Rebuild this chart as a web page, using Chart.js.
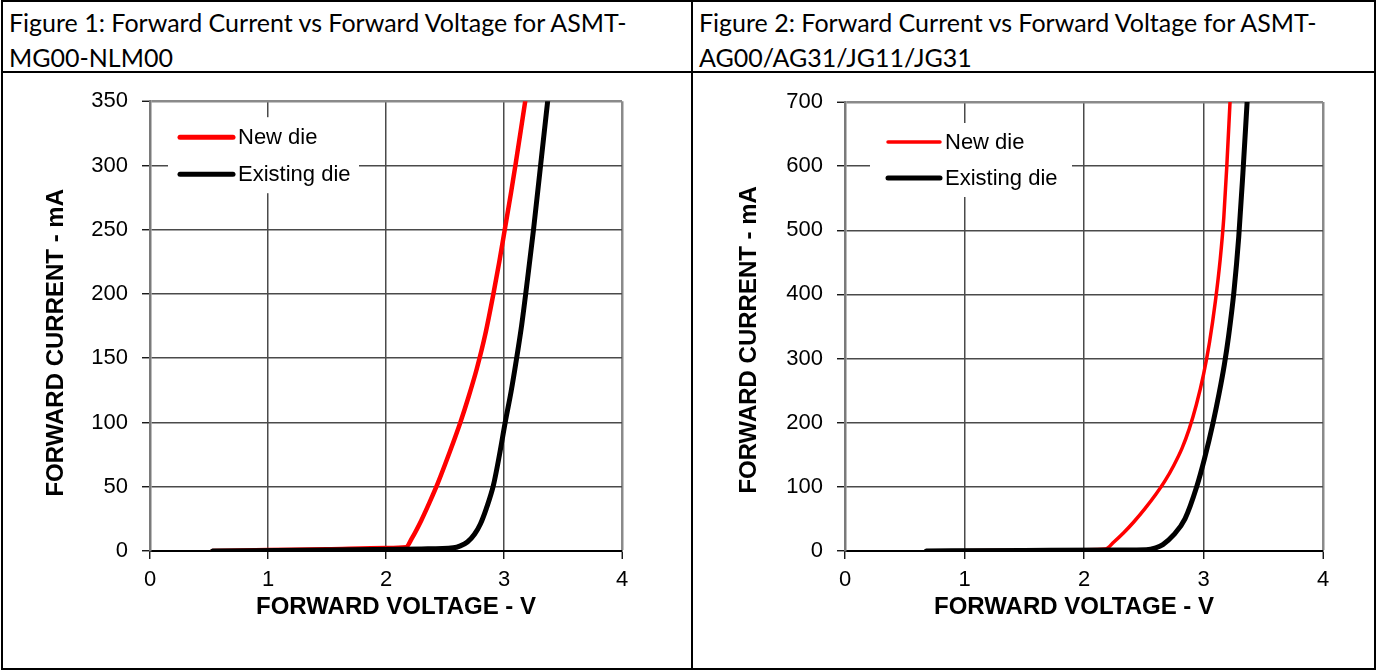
<!DOCTYPE html>
<html>
<head>
<meta charset="utf-8">
<script src="https://cdn.jsdelivr.net/npm/chart.js@4.4.1/dist/chart.umd.min.js"></script>
<style>
  html, body { margin: 0; padding: 0; background: #fff; }
  body { width: 1377px; height: 671px; position: relative; overflow: hidden; font-family: "Liberation Sans", Arial, sans-serif; }
  #frame { position: absolute; left: 1px; top: 0; width: 1371px; height: 666px; border: 2px solid #000; }
  .hline { position: absolute; left: 1px; top: 71px; width: 1375px; height: 2px; background: #000; }
  .vline { position: absolute; left: 691px; top: 0; width: 2px; height: 670px; background: #000; }
  .cap { position: absolute; top: 5px; font-family: Lato, "Open Sans", sans-serif; font-size: 25px; line-height: 35px; color: #000; white-space: nowrap; }
  .box { position: absolute; top: 74px; height: 594px; }
</style>
</head>
<body>
<div id="frame"></div>
<div class="hline"></div>
<div class="vline"></div>
<div class="cap" style="left:9px">Figure 1: Forward Current vs Forward Voltage for ASMT-<br>MG00-NLM00</div>
<div class="cap" style="left:699px">Figure 2: Forward Current vs Forward Voltage for ASMT-<br>AG00/AG31/JG11/JG31</div>
<div class="box" style="left:0; width:692px"><canvas id="fig1"></canvas></div>
<div class="box" style="left:692px; width:682px"><canvas id="fig2"></canvas></div>

<script>
// tick labels
const voltTicks = [0, 1, 2, 3, 4];
const fig1CurrentTicks = [0, 50, 100, 150, 200, 250, 300, 350];
const fig2CurrentTicks = [0, 100, 200, 300, 400, 500, 600, 700];
const seriesNames = ['New die', 'Existing die'];

// Figure 1 (ASMT-MG00-NLM00), volts / mA
const fig1NewV = [0.53, 1.0, 1.5, 2.0, 2.17, 2.22, 2.30, 2.37, 2.44, 2.54, 2.63, 2.70, 2.77, 2.84, 2.91, 2.96, 3.01, 3.06, 3.10, 3.14, 3.18];
const fig1NewI = [0, 0.7, 1.4, 2.3, 3, 10, 24, 38, 53, 77, 100, 120, 142, 168, 200, 225, 252, 279, 302, 326, 350];
const fig1OldV = [0.53, 1.5, 2.3, 2.57, 2.63, 2.69, 2.75, 2.80, 2.85, 2.91, 2.96, 3.01, 3.06, 3.10, 3.15, 3.20, 3.25, 3.31, 3.37];
const fig1OldI = [0, 0.8, 1.6, 2.5, 4, 7, 13, 21, 33, 51, 74, 100, 124, 146, 176, 212, 250, 300, 350];

// Figure 2 (ASMT-AG00/AG31/JG11/JG31)
const fig2NewV = [0.68, 1.5, 2.0, 2.18, 2.25, 2.33, 2.42, 2.51, 2.60, 2.68, 2.75, 2.82, 2.88, 2.94, 3.00, 3.05, 3.10, 3.14, 3.17, 3.195, 3.222];
const fig2NewI = [0, 1, 2, 3, 14, 28, 46, 66, 88, 110, 133, 160, 190, 228, 275, 325, 390, 455, 520, 600, 700];
const fig2OldV = [0.68, 1.5, 2.3, 2.52, 2.60, 2.66, 2.75, 2.845, 2.943, 3.01, 3.08, 3.13, 3.174, 3.21, 3.255, 3.295, 3.33, 3.365];
const fig2OldI = [0, 0.8, 1.5, 2, 5, 10, 25, 50, 100, 145, 200, 245, 290, 335, 405, 490, 590, 700];

Chart.defaults.font.family = '"Liberation Sans", Arial, sans-serif';
Chart.defaults.color = '#000';

const toPoints = (xs, ys) => xs.map((x, i) => ({ x: x, y: ys[i] }));

// legend drawn inside the plot, on a white box over the grid
const insideLegend = {
  id: 'insideLegend',
  beforeDatasetsDraw(chart, args, o) {
    const { ctx, chartArea: a } = chart;
    ctx.save();
    ctx.fillStyle = '#fff';
    ctx.fillRect(a.left + o.x, a.top + o.y, o.w, o.h);
    ctx.font = '22px "Liberation Sans", Arial, sans-serif';
    ctx.textBaseline = 'middle';
    ctx.lineCap = 'round';
    chart.data.datasets.forEach((ds, i) => {
      const y = a.top + o.rows[i];
      ctx.strokeStyle = ds.borderColor;
      ctx.lineWidth = o.widths[i];
      ctx.beginPath();
      ctx.moveTo(a.left + o.lineX, y);
      ctx.lineTo(a.left + o.lineX + o.lineLen, y);
      ctx.stroke();
      ctx.fillStyle = '#000';
      ctx.fillText(ds.label, a.left + o.lineX + o.lineLen + 5, y + 1);
    });
    ctx.restore();
  }
};

function makeChart(id, newV, newI, oldV, oldI, yTicks, s) {
  const yMax = yTicks[yTicks.length - 1];
  const xMax = voltTicks[voltTicks.length - 1];
  const edge = (max) => (c) => (c.tick && c.tick.value === max) ? '#8a8a8a' : '#4a4a4a';
  const edgeW = (max) => (c) => (c.tick && c.tick.value === max) ? 2.5 : 1.5;
  return new Chart(document.getElementById(id), {
    type: 'line',
    data: {
      datasets: [
        { label: seriesNames[0], data: toPoints(newV, newI), borderColor: '#ff0000', borderWidth: s.newW, order: 1 },
        { label: seriesNames[1], data: toPoints(oldV, oldI), borderColor: '#000000', borderWidth: s.oldW, order: 0 }
      ]
    },
    options: {
      responsive: true,
      maintainAspectRatio: false,
      animation: false,
      layout: { padding: { left: 0, top: s.top, right: s.right, bottom: 0 } },
      elements: {
        point: { radius: 0 },
        line: { cubicInterpolationMode: 'monotone', borderCapStyle: 'round', borderJoinStyle: 'round' }
      },
      plugins: {
        legend: { display: false },
        tooltip: { enabled: false },
        insideLegend: s.legend
      },
      scales: {
        x: {
          type: 'linear', min: 0, max: xMax,
          afterBuildTicks: (sc) => { sc.ticks = voltTicks.map(v => ({ value: v })); },
          afterFit: (sc) => { sc.height = 117; },
          ticks: { font: { size: 22 }, padding: 8, maxRotation: 0 },
          grid: { color: edge(xMax), lineWidth: edgeW(xMax), tickLength: 8, tickColor: '#000', tickWidth: 1.3 },
          border: { color: '#000', width: 2 },
          title: { display: true, text: s.xTitle, font: { size: 24, weight: 'bold' }, padding: { top: 0, bottom: 46 } }
        },
        y: {
          type: 'linear', min: 0, max: yMax,
          afterBuildTicks: (sc) => { sc.ticks = yTicks.map(v => ({ value: v })); },
          afterFit: (sc) => { sc.width = s.axisW; },
          ticks: { font: { size: 22 }, padding: 14 },
          grid: { color: edge(yMax), lineWidth: edgeW(yMax), tickLength: 8, tickColor: '#000', tickWidth: 1.3 },
          border: { color: '#7a7a7a', width: 2.5 },
          title: { display: true, text: s.yTitle, font: { size: 24, weight: 'bold' }, padding: { top: s.titleX, bottom: 0 } }
        }
      }
    },
    plugins: [insideLegend]
  });
}

makeChart('fig1', fig1NewV, fig1NewI, fig1OldV, fig1OldI, fig1CurrentTicks, {
  top: 27, right: 70, axisW: 150, titleX: 42, newW: 4.5, oldW: 5,
  xTitle: '   FORWARD VOLTAGE - V', yTitle: 'FORWARD CURRENT - mA     ',
  legend: { x: 18, y: 16, w: 191, h: 76, lineX: 30, lineLen: 53, rows: [36, 73], widths: [5, 5] }
});

makeChart('fig2', fig2NewV, fig2NewI, fig2OldV, fig2OldI, fig2CurrentTicks, {
  top: 28, right: 51, axisW: 153, titleX: 43, newW: 3.5, oldW: 5,
  xTitle: 'FORWARD VOLTAGE - V   ', yTitle: 'FORWARD CURRENT - mA    ',
  legend: { x: 25, y: 21, w: 202, h: 74, lineX: 43, lineLen: 52, rows: [40, 76], widths: [3.5, 5] }
});
</script>
</body>
</html>
